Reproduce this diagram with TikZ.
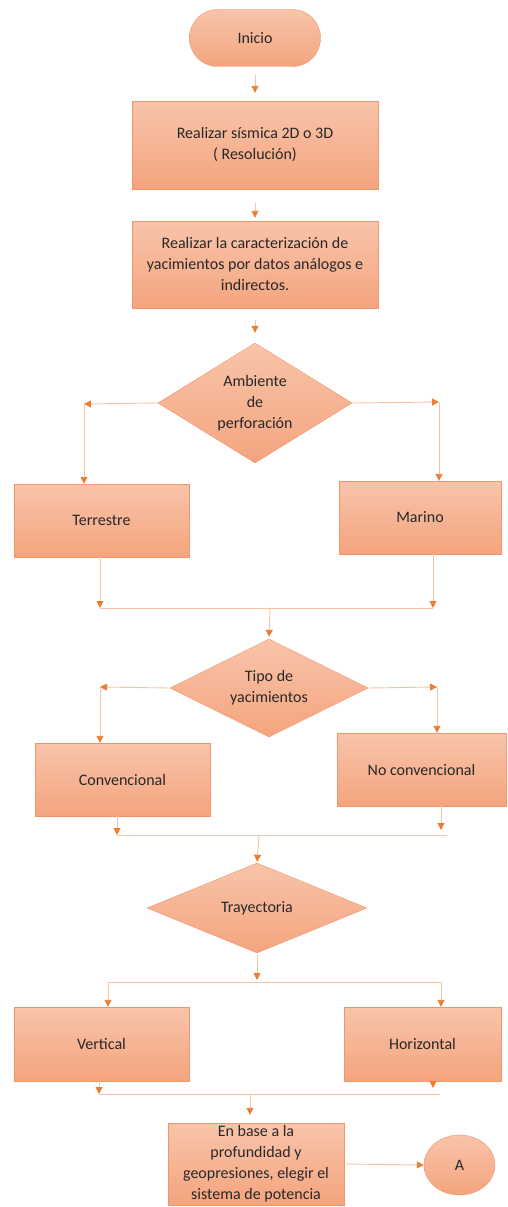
\documentclass[tikz,border=0pt]{standalone}
\usepackage{fontspec}
\setmainfont{Carlito}
\usetikzlibrary{positioning,arrows.meta,shapes.geometric}
\definecolor{boxtop}{RGB}{248,196,170}
\definecolor{boxbot}{RGB}{244,164,126}
\definecolor{boxline}{RGB}{241,150,108}
\definecolor{linea}{RGB}{247,196,163}
\definecolor{punta}{RGB}{237,125,49}
\definecolor{letra}{RGB}{40,40,40}

\begin{document}
\begin{tikzpicture}[x=1pt, y=-1pt,
    caja/.style={rectangle, draw=boxline, top color=boxtop, bottom color=boxbot, inner sep=0pt,
      align=center, text=letra, font=\fontsize{16}{21}\selectfont},
    rombo/.style={caja, diamond, aspect=1.6},
    flecha/.style={draw=linea, line width=0.9pt, -{Triangle[length=7pt,width=7pt,color=punta]}},
    linea/.style={draw=linea, line width=0.9pt}]
  \useasboundingbox (0,0) rectangle (508,1207);
  \node[caja, rounded corners=28pt, minimum width=131, minimum height=57] (inicio) at (255,38) {Inicio};
  \node[caja, minimum width=246, minimum height=88] (sismica) at (255,145) {Realizar sísmica 2D o 3D\\( Resolución)};
  \node[caja, minimum width=246, minimum height=87] (caract) at (255,264.5)
    {Realizar la caracterización de\\yacimientos por datos análogos e\\indirectos.};
  \node[rombo, minimum width=194, minimum height=120] (amb) at (255,403) {Ambiente\\de\\perforación};
  \node[caja, minimum width=175, minimum height=73] (terr) at (101.5,520.5) {Terrestre};
  \node[caja, minimum width=162, minimum height=73] (mar) at (420,517.5) {Marino};
  \node[rombo, minimum width=198, minimum height=98] (tipo) at (269,688) {Tipo de\\yacimientos};
  \node[caja, minimum width=175, minimum height=73] (conv) at (122.5,779.5) {Convencional};
  \node[caja, minimum width=169, minimum height=73] (noconv) at (421.5,769.5) {No convencional};
  \node[rombo, minimum width=220, minimum height=90] (tray) at (257,908) {Trayectoria};
  \node[caja, minimum width=175, minimum height=74] (vert) at (101.5,1044) {Vertical};
  \node[caja, minimum width=157, minimum height=74] (horiz) at (422.5,1044) {Horizontal};
  \node[caja, minimum width=176, minimum height=82] (elegir) at (256,1164)
    {En base a la\\profundidad y\\geopresiones, elegir el\\sistema de potencia};
  \node[caja, ellipse, minimum width=71, minimum height=60] (conA) at (459.5,1165) {A};

  % puntos de union
  \coordinate (ambL) at (84,404);
  \coordinate (ambR) at (439,402);
  \coordinate (barIL) at (100,608);
  \coordinate (barIR) at (433,608);
  \coordinate (barI) at (270,608);
  \coordinate (tipoL) at (100,687);
  \coordinate (tipoR) at (437,687);
  \coordinate (barIIL) at (117,835);
  \coordinate (barIIR) at (441,835);
  \coordinate (barII) at (259,835);
  \coordinate (barIIIL) at (108,982);
  \coordinate (barIIIR) at (441,982);
  \coordinate (barIIIa) at (257,955);
  \coordinate (barIII) at (257,982);
  \coordinate (barIVL) at (99,1094);
  \coordinate (barIVR) at (433,1094);
  \coordinate (barIV) at (250,1094);

  \draw[flecha, shorten <=8pt, shorten >=8pt] (inicio) -- (sismica);
  \draw[flecha, shorten <=14pt, shorten >=3pt] (sismica) -- (caract);
  \draw[flecha, shorten <=12pt, shorten >=10pt] (caract) -- (amb);
  \draw[flecha] (amb.west) -- (ambL);
  \draw[flecha] (ambL) -- (ambL |- terr.north);
  \draw[flecha] (amb.east) -- (ambR);
  \draw[flecha] (ambR) -- (ambR |- mar.north);
  \draw[flecha] (terr.south -| barIL) -- (barIL);
  \draw[flecha] (mar.south -| barIR) -- (barIR);
  \draw[linea] (barIL) -- (barIR);
  \draw[flecha, shorten >=2pt] (barI) -- (tipo.north);
  \draw[flecha] (tipo.west) -- (tipoL);
  \draw[flecha] (tipoL) -- (tipoL |- conv.north);
  \draw[flecha] (tipo.east) -- (tipoR);
  \draw[flecha] (tipoR) -- (tipoR |- noconv.north);
  \draw[flecha] (conv.south -| barIIL) -- (barIIL);
  \draw[flecha, shorten >=5pt] (noconv.south -| barIIR) -- (barIIR);
  \draw[linea] (barIIL) -- ([xshift=6pt]barIIR);
  \draw[flecha, shorten >=1pt] (barII) -- (tray.north);
  \draw[flecha, shorten >=2pt] (barIIIa) -- (barIII);
  \draw[linea] (barIIIL) -- (barIIIR);
  \draw[flecha] (barIIIL) -- (barIIIL |- vert.north);
  \draw[flecha] (barIIIR) -- (barIIIR |- horiz.north);
  \draw[flecha] (vert.south -| barIVL) -- (barIVL);
  \draw[flecha, shorten >=6pt] (horiz.south -| barIVR) -- (barIVR);
  \draw[linea] (barIVL) -- ([xshift=7pt]barIVR);
  \draw[flecha, shorten >=8pt] (barIV) -- (barIV |- elegir.north);
  \draw[flecha, shorten <=2pt] (elegir.east) -- (conA.west);
\end{tikzpicture}
\end{document}
